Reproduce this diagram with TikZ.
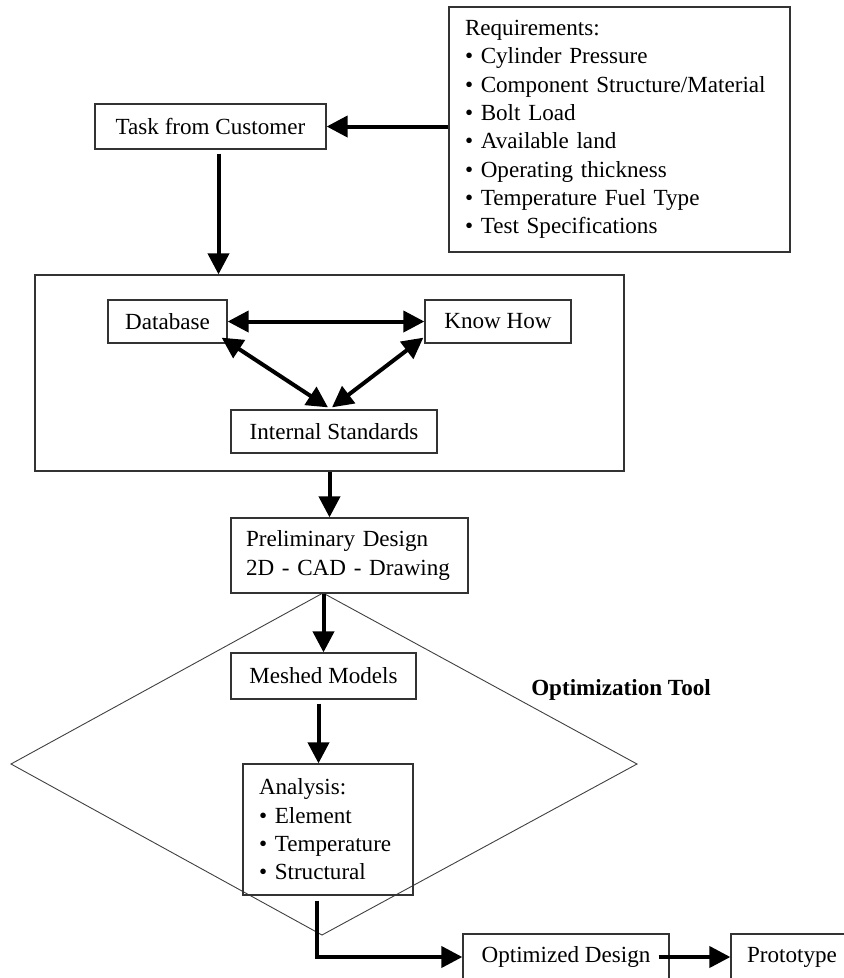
\documentclass[tikz,border=0pt]{standalone}
\usepackage{fontspec}
\setmainfont{Liberation Serif}
\usetikzlibrary{arrows.meta}

\begin{document}
\begin{tikzpicture}[x=1pt,y=-1pt,font=\fontsize{23.1}{28.3}\selectfont,
  box/.style={draw=black!80,line width=1.3pt,inner sep=0pt,minimum height=43pt},
  arr/.style={line width=4pt,-{Triangle[length=21pt,width=21pt]}},
  twoarr/.style={line width=4pt,{Triangle[length=21pt,width=21pt]}-{Triangle[length=21pt,width=21pt]}}]

\useasboundingbox (0,0) rectangle (844,978);
\clip (0,0) rectangle (844,978);

\draw[line width=0.9pt,draw=black!75] (323,593) -- (637,764) -- (322,935) -- (11,764) -- cycle;

\node[box,minimum width=341pt,minimum height=245pt,text width=309pt,align=left] (req) at (619.5,129.5)
  {Requirements:\\ \textbullet{} Cylinder Pressure\\ \textbullet{} Component Structure/Material\\
   \textbullet{} Bolt Load\\ \textbullet{} Available land\\ \textbullet{} Operating thickness\\
   \textbullet{} Temperature Fuel Type\\ \textbullet{} Test Specifications};
\node[box,minimum width=231pt,minimum height=45pt] (task) at (210.5,126.5) {Task from Customer};

\node[box,minimum width=589pt,minimum height=196pt] (outer) at (329.5,373) {};
\node[box,minimum width=119pt] (db) at (167.5,321.5) {Database};
\node[box,minimum width=146pt] (kh) at (498,321.5) {Know How};
\node[box,minimum width=206pt] (std) at (334,431.5) {Internal Standards};

\node[box,minimum width=237pt,minimum height=75pt,text width=207pt,align=left] (pre) at (349.5,555.5)
  {Preliminary Design\\ 2D - CAD - Drawing};
\node[box,minimum width=185pt,minimum height=46pt] (mesh) at (323.5,676) {Meshed Models};
\node[box,minimum width=170pt,minimum height=131pt,text width=138pt,align=left] (ana) at (328,829.5)
  {Analysis:\\ \textbullet{} Element\\ \textbullet{} Temperature\\ \textbullet{} Structural};
\node[font=\fontsize{23.1}{28.3}\selectfont\bfseries] (tool) at (621,690) {Optimization Tool};

\node[box,minimum width=206pt,minimum height=46pt] (optd) at (566,957) {Optimized Design};
\node[box,minimum width=122pt,minimum height=46pt] (proto) at (792,957) {Prototype};

\draw[arr] (req.west |- task.east) -- (task.east);
\draw[arr] ([xshift=8pt,yshift=-4pt]task.south) coordinate (t1) -- (t1 |- outer.north);

\draw[twoarr] (db.east) -- (kh.west);
\draw[twoarr] ([xshift=-6pt,yshift=6pt]db.south east) -- ([xshift=-6pt,yshift=2pt]std.north);
\draw[twoarr] ([xshift=-1pt,yshift=6pt]kh.south west) -- ([xshift=-2pt,yshift=2pt]std.north);

\draw[arr] (outer.south) -- (outer.south |- pre.north);
\draw[arr] (mesh.north |- pre.south) -- (mesh.north);
\draw[arr] ([xshift=-5pt,yshift=-4pt]mesh.south) coordinate (m1) -- (m1 |- ana.north);
\draw[arr] ([xshift=-11pt,yshift=-5pt]ana.south) coordinate (a1) -- (a1 |- optd.west) -- (optd.west);
\draw[arr] ([xshift=-11pt]optd.east) -- (proto.west);

\end{tikzpicture}
\end{document}
